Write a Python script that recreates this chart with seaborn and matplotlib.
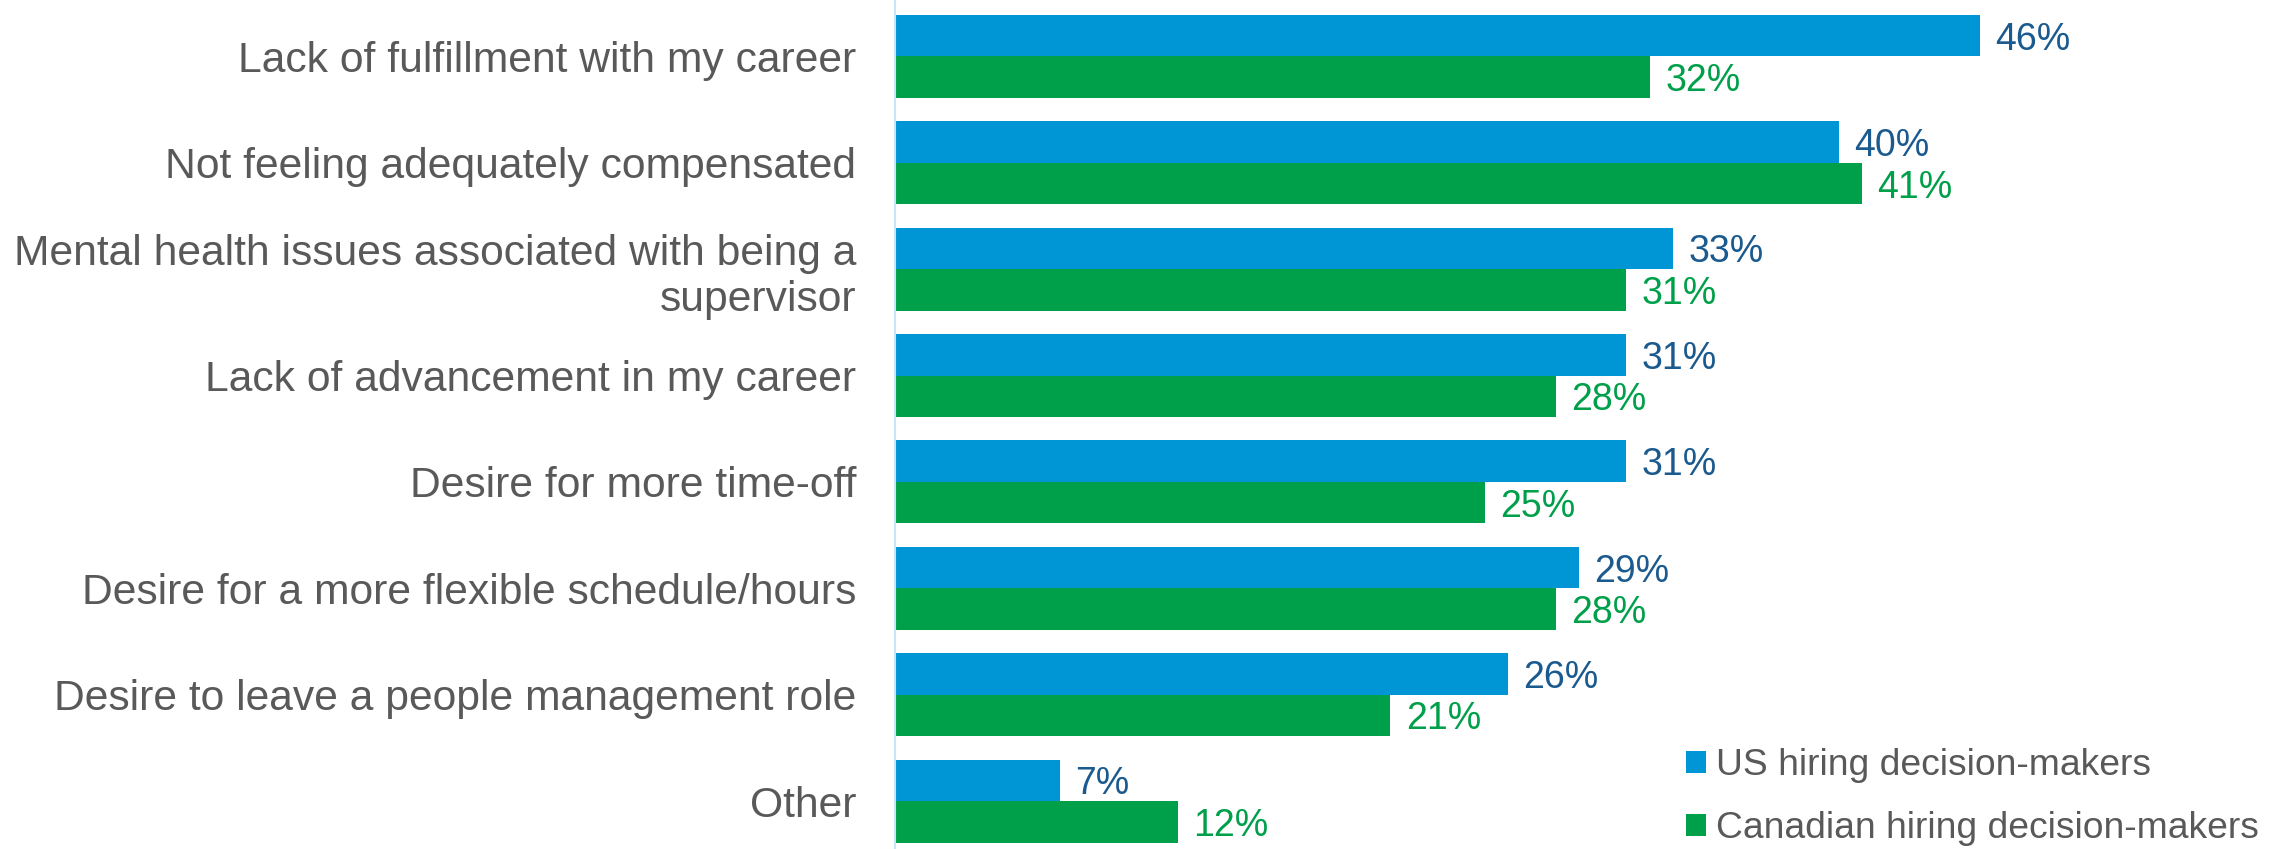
import matplotlib
matplotlib.use("Agg")
import matplotlib.pyplot as plt
import seaborn as sns
import pandas as pd

categories = [
    "Lack of fulfillment with my career",
    "Not feeling adequately compensated",
    "Mental health issues associated with being a\nsupervisor",
    "Lack of advancement in my career",
    "Desire for more time-off",
    "Desire for a more flexible schedule/hours",
    "Desire to leave a people management role",
    "Other",
]
us_values = [46, 40, 33, 31, 31, 29, 26, 7]
ca_values = [32, 41, 31, 28, 25, 28, 21, 12]
series = ["US hiring decision-makers", "Canadian hiring decision-makers"]

bar_colors = ["#0096D6", "#00A04A"]
label_colors = ["#1B5A8E", "#00A04A"]
text_gray = "#595959"

df = pd.DataFrame({
    "category": categories * 2,
    "value": us_values + ca_values,
    "group": [series[0]] * len(categories) + [series[1]] * len(categories),
})

sns.set_theme(style="white")
plt.rcParams["font.family"] = ["Liberation Sans", "DejaVu Sans"]

W, H = 2287, 849
fig = plt.figure(figsize=(W / 100, H / 100), dpi=100)
ax = fig.add_axes([895 / W, 0.0, 1 - 895 / W, 1.0])

sns.barplot(
    data=df, y="category", x="value", hue="group",
    order=categories, hue_order=series, palette=bar_colors,
    width=0.78, orient="h", ax=ax, saturation=1, linewidth=0,
)

ax.set_xlim(0, 1392 / 23.59)
ax.set_ylim(7.45, -0.53)

for cont, col in zip(ax.containers, label_colors):
    texts = ax.bar_label(cont, labels=[f"{v:.0f}%" for v in cont.datavalues],
                         padding=11, color=col, fontsize=27)
    for t in texts:
        t.set_verticalalignment("center_baseline")

ax.set_xlabel("")
ax.set_ylabel("")
ax.set_xticks([])
ax.tick_params(axis="y", length=0, pad=28, labelsize=30.7, labelcolor=text_gray)
for lab in ax.get_yticklabels():
    lab.set_horizontalalignment("right")
    lab.set_multialignment("right")

for side in ["top", "right", "bottom"]:
    ax.spines[side].set_visible(False)
ax.spines["left"].set_color("#C9E6F8")
ax.spines["left"].set_linewidth(1.5)

leg = ax.legend(
    loc="center left", bbox_to_anchor=(1686 / W, 1 - 797 / H),
    bbox_transform=fig.transFigure, frameon=False,
    fontsize=26.8, handlelength=0.55, handleheight=0.55, handletextpad=0.25,
    labelspacing=0.75, borderaxespad=0.0, borderpad=0.0,
)
for t in leg.get_texts():
    t.set_color(text_gray)

fig.savefig("out.png", dpi=100, facecolor="white")
